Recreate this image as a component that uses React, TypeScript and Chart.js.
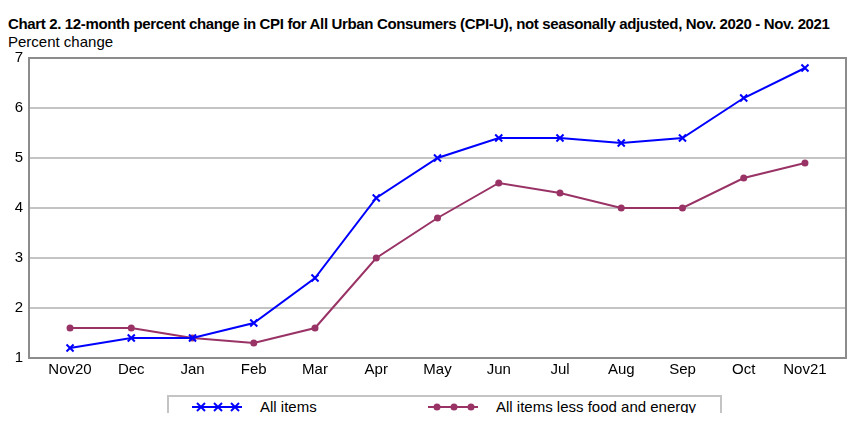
import React, { useEffect, useRef } from "react";
import { Chart, registerables } from "chart.js";

Chart.register(...registerables);

const months = ["Nov20", "Dec", "Jan", "Feb", "Mar", "Apr", "May", "Jun", "Jul", "Aug", "Sep", "Oct", "Nov21"];
const allItems = [1.2, 1.4, 1.4, 1.7, 2.6, 4.2, 5.0, 5.4, 5.4, 5.3, 5.4, 6.2, 6.8];
const coreItems = [1.6, 1.6, 1.4, 1.3, 1.6, 3.0, 3.8, 4.5, 4.3, 4.0, 4.0, 4.6, 4.9];
const yTicks = [1, 2, 3, 4, 5, 6, 7];

const BLUE = "#0000ff";
const MAROON = "#993366";
const FONT = "Arial, 'Liberation Sans', sans-serif";

const borderPlugin = {
  id: "plotBorder",
  afterDraw(chart: any) {
    const { ctx, chartArea } = chart;
    ctx.save();
    ctx.strokeStyle = "#8c8c8c";
    ctx.lineWidth = 2;
    ctx.strokeRect(chartArea.left, chartArea.top, chartArea.right - chartArea.left, chartArea.bottom - chartArea.top);
    ctx.restore();
  },
};

export default function App() {
  const ref = useRef<HTMLCanvasElement | null>(null);
  useEffect(() => {
    if (!ref.current) return;
    const chart = new Chart(ref.current, {
      type: "line",
      data: {
        datasets: [
          {
            label: "All items",
            data: allItems.map((v, i) => ({ x: i, y: v })),
            borderColor: BLUE,
            backgroundColor: BLUE,
            borderWidth: 2,
            pointStyle: "crossRot",
            pointRadius: 5,
            pointBorderWidth: 2,
            pointBorderColor: BLUE,
          },
          {
            label: "All items less food and energy",
            data: coreItems.map((v, i) => ({ x: i, y: v })),
            borderColor: MAROON,
            backgroundColor: MAROON,
            borderWidth: 2,
            pointStyle: "circle",
            pointRadius: 3.5,
            pointBorderWidth: 0,
          },
        ],
      },
      options: {
        animation: false,
        responsive: false,
        maintainAspectRatio: false,
        layout: { padding: { left: 0, right: 13, top: 0, bottom: 0 } },
        plugins: { legend: { display: false }, title: { display: false }, tooltip: { enabled: false } },
        scales: {
          x: {
            type: "linear",
            min: -0.67,
            max: 12.67,
            afterBuildTicks(scale: any) {
              scale.ticks = months.map((_, i) => ({ value: i }));
            },
            afterFit(scale: any) {
              scale.height = 30;
            },
            ticks: {
              autoSkip: false,
              maxRotation: 0,
              padding: 3,
              color: "#000",
              font: { family: FONT, size: 15 },
              callback: (v: any) => months[Math.round(Number(v))] ?? "",
            },
            grid: { display: false, drawTicks: false },
            border: { display: false },
          },
          y: {
            min: 1,
            max: 7,
            afterBuildTicks(scale: any) {
              scale.ticks = yTicks.map((v) => ({ value: v }));
            },
            afterFit(scale: any) {
              scale.width = 21;
            },
            ticks: {
              padding: 6,
              color: "#000",
              font: { family: FONT, size: 15 },
            },
            grid: { color: "#c4c4c4", lineWidth: 2, drawTicks: false },
            border: { display: false },
          },
        },
      },
      plugins: [borderPlugin],
    } as any);
    return () => chart.destroy();
  }, []);

  const sample = (kind: "cross" | "dot", color: string) => (
    <svg width="52" height="14" style={{ display: "block" }}>
      <line x1="0" y1="7" x2="50" y2="7" stroke={color} strokeWidth="2" />
      {[9, 26, 43].map((cx) =>
        kind === "cross" ? (
          <g key={cx} stroke={color} strokeWidth="2">
            <line x1={cx - 4} y1={3} x2={cx + 4} y2={11} />
            <line x1={cx - 4} y1={11} x2={cx + 4} y2={3} />
          </g>
        ) : (
          <circle key={cx} cx={cx} cy={7} r={3.5} fill={color} />
        )
      )}
    </svg>
  );

  return (
    <div style={{ position: "relative", width: 851, height: 405, fontFamily: FONT }}>
      <div
        style={{
          position: "absolute",
          left: 0,
          top: 7,
          fontWeight: "bold",
          fontSize: 15,
          letterSpacing: "-0.35px",
          whiteSpace: "nowrap",
          lineHeight: "18px",
        }}
      >
        Chart 2. 12-month percent change in CPI for All Urban Consumers (CPI-U), not seasonally adjusted, Nov. 2020 - Nov. 2021
      </div>
      <div style={{ position: "absolute", left: 0, top: 25, fontSize: 15, whiteSpace: "nowrap", lineHeight: "18px" }}>
        Percent change
      </div>
      <canvas ref={ref} width={851} height={345} style={{ position: "absolute", left: 0, top: 35, width: 851, height: 345 }} />
      <div
        style={{
          position: "absolute",
          left: 159,
          top: 387,
          width: 551,
          height: 21,
          border: "2px solid #c4c4c4",
          fontSize: 15,
        }}
      >
        <div style={{ position: "absolute", left: 23, top: 3 }}>{sample("cross", BLUE)}</div>
        <div style={{ position: "absolute", left: 91, top: 1, lineHeight: "18px", whiteSpace: "nowrap" }}>All items</div>
        <div style={{ position: "absolute", left: 259, top: 3 }}>{sample("dot", MAROON)}</div>
        <div style={{ position: "absolute", left: 327, top: 1, lineHeight: "18px", whiteSpace: "nowrap" }}>
          All items less food and energy
        </div>
      </div>
    </div>
  );
}
